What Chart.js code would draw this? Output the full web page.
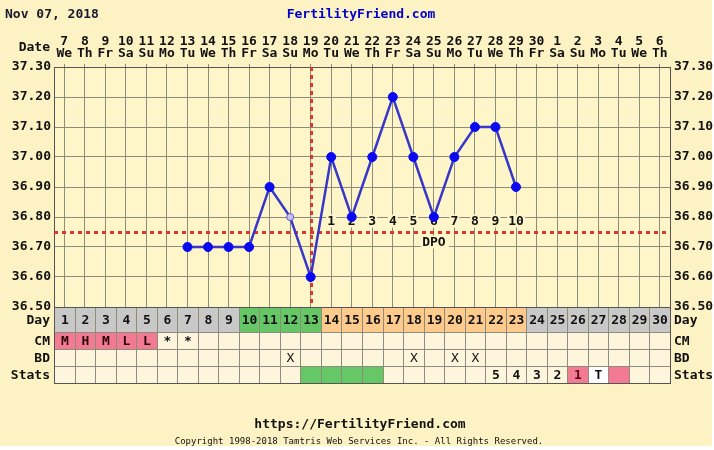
<!DOCTYPE html>
<html>
<head>
<meta charset="utf-8">
<script src="https://cdn.jsdelivr.net/npm/chart.js@4"></script>
<style>
  html, body { margin: 0; padding: 0; background: #fff; }
  canvas { display: block; }
</style>
</head>
<body>
<canvas id="ffChart" width="714" height="450"></canvas>
<script>
// chart data
var cycleDays = [1,2,3,4,5,6,7,8,9,10,11,12,13,14,15,16,17,18,19,20,21,22,23,24,25,26,27,28,29,30];
var dateNums  = ['7','8','9','10','11','12','13','14','15','16','17','18','19','20','21','22','23','24','25','26','27','28','29','30','1','2','3','4','5','6'];
var weekDays  = ['We','Th','Fr','Sa','Su','Mo','Tu','We','Th','Fr','Sa','Su','Mo','Tu','We','Th','Fr','Sa','Su','Mo','Tu','We','Th','Fr','Sa','Su','Mo','Tu','We','Th'];
var temps     = [null,null,null,null,null,null,36.70,36.70,36.70,36.70,36.90,36.80,36.60,37.00,36.80,37.00,37.20,37.00,36.80,37.00,37.10,37.10,36.90,null,null,null,null,null,null,null];
var openTempDays = [12];
var yTicks = [36.50,36.60,36.70,36.80,36.90,37.00,37.10,37.20,37.30];
var coverline = 36.75;
var ovulationDay = 13;
var dpoCount = 10;
// day row phase: n = none, f = fertile, l = luteal
var dayPhase = ['n','n','n','n','n','n','n','n','n','f','f','f','f','l','l','l','l','l','l','l','l','l','l','n','n','n','n','n','n','n'];
var cmValues = ['M','H','M','L','L','*','*','','','','','','','','','','','','','','','','','','','','','','',''];
var bdDays = [12,18,20,21];
var statsText  = ['','','','','','','','','','','','','','','','','','','','','','5','4','3','2','1','T','','',''];
var statsColor = ['','','','','','','','','','','','','g','g','g','g','','','','','','','','','','p','w','p','',''];
var chartDate = 'Nov 07, 2018';

var mono = "'DejaVu Sans Mono', monospace";
var bgOuter = '#fcf2c3';
var bgPlot = '#fef5c9';
var bgCell = '#fdf6dd';
var gridCol = '#8e8c7c';
var phaseColors = {n: '#c8c8c8', f: '#66c766', l: '#fecb8c'};
var statColors = {g: '#66c766', p: '#f27b93', w: '#ffffff'};
var rowHeights = [25, 17, 17, 17];
var rowNames = ['Day', 'CM', 'BD', 'Stats'];

var ffPlugin = {
    id: 'ffPlugin',
    beforeDraw: function(chart){
        var c = chart.ctx, a = chart.chartArea;
        c.save();
        c.fillStyle = bgOuter;
        c.fillRect(0, 0, 712, 446);
        c.fillStyle = bgPlot;
        c.fillRect(a.left, a.top, a.right - a.left, a.bottom - a.top);
        c.restore();
    },
    beforeDatasetsDraw: function(chart){
        var c = chart.ctx, a = chart.chartArea, xs = chart.scales.x, ys = chart.scales.y;
        c.save();
        c.strokeStyle = '#d63a32';
        c.lineWidth = 3;
        c.setLineDash([4, 4]);
        // coverline
        var cy = Math.round(ys.getPixelForValue(coverline)) + 0.5;
        c.beginPath(); c.moveTo(a.left, cy); c.lineTo(a.right, cy); c.stroke();
        // ovulation line
        var ox = Math.round(xs.getPixelForValue(ovulationDay - 1)) + 0.5;
        c.beginPath(); c.moveTo(ox, a.top); c.lineTo(ox, a.bottom); c.stroke();
        c.setLineDash([]);
        // dpo labels
        c.font = 'bold 13px ' + mono;
        c.textAlign = 'center';
        c.textBaseline = 'middle';
        for (var d = 1; d <= dpoCount; d++) {
            var px = xs.getPixelForValue(ovulationDay - 1 + d);
            var txt = String(d);
            var tw = c.measureText(txt).width;
            c.fillStyle = bgPlot;
            c.fillRect(px - tw / 2 - 1, cy - 18, tw + 2, 13);
            c.fillStyle = '#111';
            c.fillText(txt, px, cy - 11);
        }
        var dx = xs.getPixelForValue(ovulationDay - 1 + 6);
        c.fillStyle = bgPlot;
        c.fillRect(dx - 13, cy + 3, 28, 13);
        c.fillStyle = '#111';
        c.fillText('DPO', dx, cy + 10);
        c.restore();
    },
    afterDraw: function(chart){
        var c = chart.ctx, a = chart.chartArea, xs = chart.scales.x;
        var colW = xs.width / cycleDays.length;
        c.save();
        c.textBaseline = 'middle';
        // header
        c.font = 'bold 13px ' + mono;
        c.fillStyle = '#1a1a2e';
        c.textAlign = 'left';
        c.fillText(chartDate, 5, 15);
        c.fillStyle = '#0000cc';
        c.textAlign = 'center';
        c.fillText('FertilityFriend.com', 361, 15);
        c.fillStyle = '#111';
        c.textAlign = 'right';
        c.fillText('Date', 50, 48);
        // rows below the plot
        var top = a.bottom;
        for (var r = 0; r < rowNames.length; r++) {
            var h = rowHeights[r];
            for (var i = 0; i < cycleDays.length; i++) {
                var x0 = Math.round(xs.getPixelForValue(i) - colW / 2);
                var x1 = Math.round(xs.getPixelForValue(i) + colW / 2);
                var fill = bgCell, txt = '', tcol = '#111';
                if (r === 0) { fill = phaseColors[dayPhase[i]]; txt = String(cycleDays[i]); }
                if (r === 1) {
                    txt = cmValues[i];
                    if (txt && txt !== '*') { fill = statColors.p; tcol = '#2a0008'; }
                }
                if (r === 2 && bdDays.indexOf(cycleDays[i]) >= 0) { txt = 'X'; }
                if (r === 3) {
                    if (statsColor[i]) fill = statColors[statsColor[i]];
                    txt = statsText[i];
                    if (statsColor[i] === 'p') tcol = '#5a0010';
                }
                c.fillStyle = fill;
                c.fillRect(x0, top, x1 - x0, h);
                c.strokeStyle = gridCol;
                c.lineWidth = 1;
                c.strokeRect(x0 + 0.5, top + 0.5, x1 - x0, h);
                if (txt) {
                    c.fillStyle = tcol;
                    c.textAlign = 'center';
                    c.font = (txt === 'X' ? '' : 'bold ') + '13px ' + mono;
                    c.fillText(txt, (x0 + x1) / 2 + 0.5, top + h / 2 + 1);
                }
            }
            c.fillStyle = '#111';
            c.font = 'bold 13px ' + mono;
            c.textAlign = 'right';
            c.fillText(rowNames[r], 50, top + h / 2 + 1);
            c.textAlign = 'left';
            c.fillText(rowNames[r], 674, top + h / 2 + 1);
            top += h;
        }
        c.strokeStyle = '#555';
        c.strokeRect(a.left + 0.5, a.bottom + 0.5, a.right - a.left, top - a.bottom);
        // footer
        c.fillStyle = '#111';
        c.textAlign = 'center';
        c.font = 'bold 13px ' + mono;
        c.fillText('https://FertilityFriend.com', 360, 425);
        c.font = '9px ' + mono;
        c.fillText('Copyright 1998-2018 Tamtris Web Services Inc. - All Rights Reserved.', 359, 442);
        c.restore();
    }
};

function yLabel(v){
    var k = Math.round(v * 100);
    return (k % 10 === 0) ? (k / 100).toFixed(2) : '';
}

var tickFont = {family: mono, weight: 'bold', size: 13};
var ctx = document.getElementById('ffChart').getContext('2d');
var myChart = new Chart(ctx, {
    type: 'line',
    data: {
        labels: cycleDays.map(String),
        datasets: [{
            label: 'Temp',
            data: temps,
            borderColor: '#3838c8',
            borderWidth: 2.5,
            pointRadius: function(c){ return openTempDays.indexOf(c.dataIndex + 1) >= 0 ? 3.5 : 4.5; },
            pointBackgroundColor: function(c){ return openTempDays.indexOf(c.dataIndex + 1) >= 0 ? '#c9c6f0' : '#0a0af0'; },
            pointBorderColor: function(c){ return openTempDays.indexOf(c.dataIndex + 1) >= 0 ? '#5a5ad8' : '#0a0af0'; },
            pointBorderWidth: 1,
            tension: 0,
            spanGaps: false
        }]
    },
    options: {
        responsive: false,
        animation: false,
        devicePixelRatio: 1,
        layout: {
            autoPadding: false,
            padding: {top: 0, left: 0, right: 0, bottom: 143}
        },
        scales: {
            x: {
                type: 'category',
                position: 'bottom',
                offset: true,
                ticks: {display: false},
                grid: {color: gridCol, drawTicks: false},
                border: {color: '#555'},
                afterFit: function(s){ s.height = 0; }
            },
            xTop: {
                type: 'category',
                position: 'top',
                offset: true,
                labels: dateNums.map(function(d, i){ return [d, weekDays[i]]; }),
                ticks: {
                    color: '#111',
                    padding: 5,
                    autoSkip: false,
                    maxRotation: 0,
                    font: {family: mono, weight: 'bold', size: 13, lineHeight: 0.9}
                },
                grid: {drawOnChartArea: false, tickLength: 3, color: gridCol},
                border: {color: '#555'},
                afterFit: function(s){ s.height = 67; }
            },
            y: {
                position: 'left',
                min: yTicks[0],
                max: yTicks[yTicks.length - 1],
                ticks: {stepSize: 0.05, color: '#111', padding: 3, font: tickFont, callback: yLabel},
                grid: {color: gridCol, drawTicks: false},
                border: {color: '#555'},
                afterFit: function(s){ s.width = 54; }
            },
            y2: {
                position: 'right',
                min: yTicks[0],
                max: yTicks[yTicks.length - 1],
                ticks: {stepSize: 0.05, color: '#111', padding: 4, font: tickFont, callback: yLabel},
                grid: {drawOnChartArea: false, drawTicks: false},
                border: {color: '#555'},
                afterFit: function(s){ s.width = 44; }
            }
        },
        plugins: {
            legend: {display: false},
            tooltip: {enabled: false}
        }
    },
    plugins: [ffPlugin]
});
</script>
</body>
</html>
